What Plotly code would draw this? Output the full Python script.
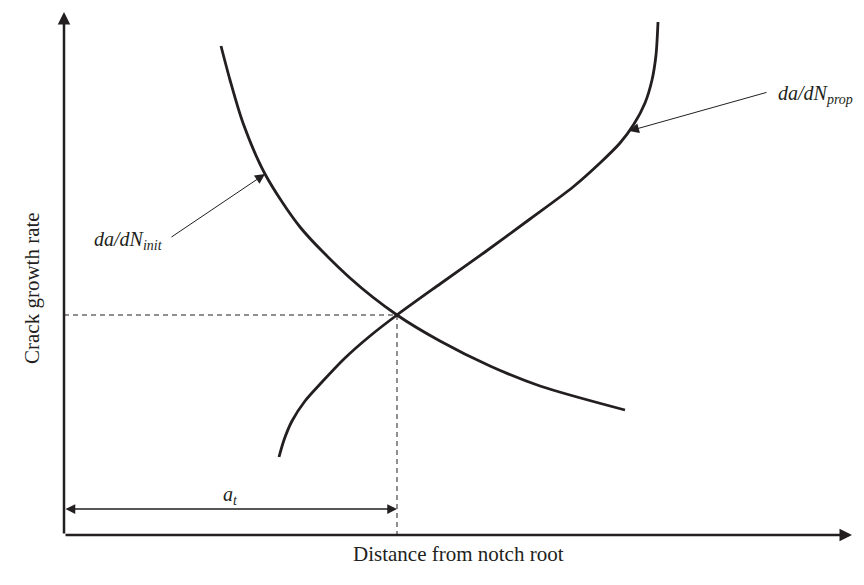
import plotly.graph_objects as go

# Schematic coordinates: origin at the axis corner, arbitrary units
init_x = [157, 166, 179, 201, 236, 286, 333, 376, 426, 476, 561]
init_y = [489, 455, 412, 361, 308, 257, 220, 194, 169, 149, 125]

prop_x = [215, 220, 228, 241, 258, 281, 306, 333, 376, 421, 466, 509, 536, 556, 570, 581, 588, 592, 594]
prop_y = [78, 95, 114, 134, 153, 177, 199, 220, 251, 283, 316, 348, 372, 392, 411, 432, 455, 480, 513]

# Transition point where the two rates are equal
a_t = 333
rate_t = 220

x_end = 788
y_end = 523

ink = "#231f20"
serif = "Liberation Serif"

fig = go.Figure()

fig.add_trace(go.Scatter(
    x=init_x, y=init_y, mode="lines",
    line=dict(color=ink, width=2.8, shape="spline", smoothing=0.8),
    hoverinfo="skip", showlegend=False,
))
fig.add_trace(go.Scatter(
    x=prop_x, y=prop_y, mode="lines",
    line=dict(color=ink, width=2.8, shape="spline", smoothing=0.8),
    hoverinfo="skip", showlegend=False,
))

# Dashed guides to the transition point
fig.add_trace(go.Scatter(
    x=[0, a_t, a_t], y=[rate_t, rate_t, 0], mode="lines",
    line=dict(color=ink, width=1, dash="5px,4px"),
    hoverinfo="skip", showlegend=False,
))

annotations = []

# Axes with arrowheads
annotations.append(dict(
    x=0, y=y_end, ax=0, ay=0, xref="x", yref="y", axref="x", ayref="y",
    text="", showarrow=True, arrowhead=2, arrowsize=1, arrowwidth=2.5,
    arrowcolor=ink,
))
annotations.append(dict(
    x=x_end, y=0, ax=0, ay=0, xref="x", yref="y", axref="x", ayref="y",
    text="", showarrow=True, arrowhead=2, arrowsize=1, arrowwidth=2.5,
    arrowcolor=ink,
))

# Dimension arrow for a_t
annotations.append(dict(
    x=a_t, y=26, ax=0, ay=26, xref="x", yref="y", axref="x", ayref="y",
    text="", showarrow=True, arrowhead=2, startarrowhead=2, arrowside="end+start",
    arrowsize=1.5, startarrowsize=1.5, arrowwidth=1.3, arrowcolor=ink,
))
annotations.append(dict(
    x=a_t / 2, y=40, xref="x", yref="y",
    text="<i>a<sub>t</sub></i>", showarrow=False,
    font=dict(family=serif, size=20, color=ink),
))

# Curve labels with leader arrows
annotations.append(dict(
    x=201, y=361, ax=106, ay=297, xref="x", yref="y", axref="x", ayref="y",
    text="", showarrow=True, arrowhead=2, arrowsize=2, arrowwidth=1,
    arrowcolor=ink,
))
annotations.append(dict(
    x=101, y=295, xref="x", yref="y", xanchor="right", yanchor="middle",
    text="<i>da/dN<sub>init</sub></i>", showarrow=False,
    font=dict(family=serif, size=20, color=ink),
))
annotations.append(dict(
    x=565, y=404, ax=704, ay=443, xref="x", yref="y", axref="x", ayref="y",
    text="", showarrow=True, arrowhead=2, arrowsize=2, arrowwidth=1,
    arrowcolor=ink,
))
annotations.append(dict(
    x=712, y=441, xref="x", yref="y", xanchor="left", yanchor="middle",
    text="<i>da/dN<sub>prop</sub></i>", showarrow=False,
    font=dict(family=serif, size=20, color=ink),
))

# Axis titles
annotations.append(dict(
    x=0.4925, y=-0.0617, xref="paper", yref="paper",
    text="Distance from notch root", showarrow=False,
    font=dict(family=serif, size=21, color=ink),
))
annotations.append(dict(
    x=-0.0575, y=0.4617, xref="paper", yref="paper", textangle=-90,
    text="Crack growth rate", showarrow=False,
    font=dict(family=serif, size=21, color=ink),
))

fig.update_layout(
    width=864, height=585,
    margin=dict(l=64, r=0, t=0, b=50),
    paper_bgcolor="white", plot_bgcolor="white",
    xaxis=dict(range=[0, 800], visible=False),
    yaxis=dict(range=[0, 535], visible=False),
    annotations=annotations,
)

fig.write_html("out.html")
